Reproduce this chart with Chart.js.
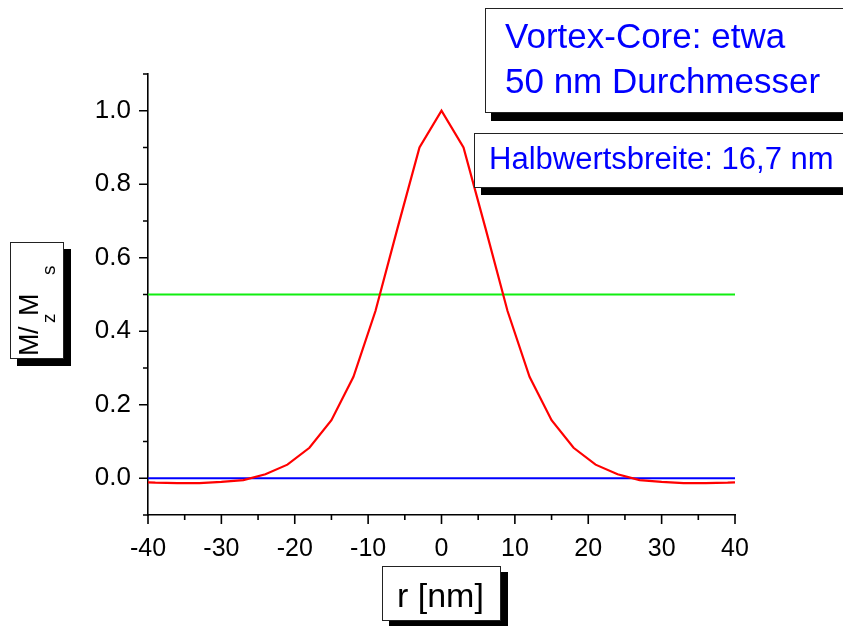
<!DOCTYPE html>
<html>
<head>
<meta charset="utf-8">
<script src="https://cdn.jsdelivr.net/npm/chart.js@4"></script>
<style>
  html, body { margin: 0; padding: 0; background: #fff; }
  canvas { display: block; }
</style>
</head>
<body>
<canvas id="chart" width="843" height="626"></canvas>
<script>
// profile of the vortex core, Mz/Ms over r
const radiusNm = [-40, -39, -36, -33, -30, -27, -24, -21, -18, -15, -12, -9, -6, -3, 0,
                  3, 6, 9, 12, 15, 18, 21, 24, 27, 30, 33, 36, 39, 40];
const mzMs = [-0.011, -0.012, -0.013, -0.013, -0.010, -0.005, 0.011, 0.037, 0.083, 0.158, 0.276, 0.455, 0.68, 0.90, 1.0,
              0.90, 0.68, 0.455, 0.276, 0.158, 0.083, 0.037, 0.011, -0.005, -0.010, -0.013, -0.013, -0.012, -0.011];

// reference levels
const levelX = [-40, 40];
const halfLevel = [0.5, 0.5];
const zeroLevel = [0, 0];

// axes
const xTickValues = [-40, -30, -20, -10, 0, 10, 20, 30, 40];
const xTickLabels = ['-40', '-30', '-20', '-10', '0', '10', '20', '30', '40'];
const xMinorTicks = [-35, -25, -15, -5, 5, 15, 25, 35];
const yTickValues = [0, 0.2, 0.4, 0.6, 0.8, 1.0];
const yTickLabels = ['0.0', '0.2', '0.4', '0.6', '0.8', '1.0'];
const yMinorTicks = [-0.1, 0.1, 0.3, 0.5, 0.7, 0.9, 1.1];

const FONT = "'Liberation Sans', Arial, sans-serif";

function toPoints(xs, ys) {
    return xs.map((x, i) => ({ x: x, y: ys[i] }));
}

function shadowBox(ctx, x, y, w, h, dx, dy) {
    ctx.fillStyle = '#000';
    ctx.fillRect(x + dx, y + dy, w, h);
    ctx.fillStyle = '#fff';
    ctx.fillRect(x, y, w, h);
    ctx.strokeStyle = '#222';
    ctx.lineWidth = 1;
    ctx.strokeRect(x + 0.5, y + 0.5, w - 1, h - 1);
}

const decorations = {
    id: 'decorations',
    beforeDraw(chart) {
        const ctx = chart.ctx;
        ctx.save();
        ctx.fillStyle = '#fff';
        ctx.fillRect(0, 0, chart.width, chart.height);
        ctx.restore();
    },
    afterDraw(chart) {
        const ctx = chart.ctx;
        const xs = chart.scales.x, ys = chart.scales.y;
        const area = chart.chartArea;
        ctx.save();

        // tick marks, outward
        ctx.strokeStyle = '#000';
        ctx.lineWidth = 1.6;
        ctx.beginPath();
        xTickValues.forEach(v => {
            const px = xs.getPixelForValue(v);
            ctx.moveTo(px, area.bottom); ctx.lineTo(px, area.bottom + 9);
        });
        xMinorTicks.forEach(v => {
            const px = xs.getPixelForValue(v);
            ctx.moveTo(px, area.bottom); ctx.lineTo(px, area.bottom + 5);
        });
        yTickValues.forEach(v => {
            const py = ys.getPixelForValue(v);
            ctx.moveTo(area.left, py); ctx.lineTo(area.left - 9, py);
        });
        yMinorTicks.forEach(v => {
            const py = ys.getPixelForValue(v);
            ctx.moveTo(area.left, py); ctx.lineTo(area.left - 5, py);
        });
        ctx.stroke();

        // text boxes
        shadowBox(ctx, 485, 8, 380, 105, 6, 8);
        shadowBox(ctx, 474, 133, 390, 55, 7, 7);
        shadowBox(ctx, 10, 242, 54, 117, 7, 7);
        shadowBox(ctx, 382, 566, 119, 55, 7, 6);

        ctx.fillStyle = '#0000ff';
        ctx.textBaseline = 'alphabetic';
        ctx.textAlign = 'left';
        ctx.font = '35px ' + FONT;
        ctx.fillText('Vortex-Core: etwa', 505, 48);
        ctx.fillText('50 nm Durchmesser', 505, 93);
        ctx.font = '31px ' + FONT;
        ctx.fillText('Halbwertsbreite: 16,7 nm', 489, 169);

        // axis titles
        ctx.fillStyle = '#000';
        ctx.font = '34px ' + FONT;
        ctx.fillText('r [nm]', 397, 607);

        ctx.save();
        ctx.translate(38, 355);
        ctx.rotate(-Math.PI / 2);
        ctx.font = '27px ' + FONT;
        ctx.fillText('M', -1, 0);
        ctx.fillText('/', 21, 0);
        ctx.fillText('M', 39, 0);
        ctx.font = '19px ' + FONT;
        ctx.fillText('z', 32, 17);
        ctx.fillText('s', 80, 17);
        ctx.restore();

        ctx.restore();
    }
};

new Chart(document.getElementById('chart').getContext('2d'), {
    type: 'line',
    data: {
        datasets: [
            {
                data: toPoints(radiusNm, mzMs),
                borderColor: '#ff0000',
                borderWidth: 2.2,
                pointRadius: 0,
                tension: 0
            },
            {
                data: toPoints(levelX, halfLevel),
                borderColor: '#11ee11',
                borderWidth: 2.2,
                pointRadius: 0
            },
            {
                data: toPoints(levelX, zeroLevel),
                borderColor: '#0000ff',
                borderWidth: 2.2,
                pointRadius: 0
            }
        ]
    },
    options: {
        responsive: false,
        animation: false,
        layout: { padding: { top: 74, right: 108, bottom: 0, left: 0 } },
        plugins: { legend: { display: false }, tooltip: { enabled: false } },
        scales: {
            x: {
                type: 'linear',
                min: -40,
                max: 40,
                grid: { display: false },
                border: { display: true, color: '#000', width: 1.6 },
                afterBuildTicks: scale => { scale.ticks = xTickValues.map(v => ({ value: v })); },
                afterFit: scale => { scale.height = 111; },
                ticks: {
                    color: '#000',
                    padding: 11,
                    maxRotation: 0,
                    font: { family: FONT, size: 25 },
                    callback: (value, i) => xTickLabels[i]
                }
            },
            y: {
                type: 'linear',
                min: -0.1,
                max: 1.1,
                grid: { display: false },
                border: { display: true, color: '#000', width: 1.6 },
                afterBuildTicks: scale => { scale.ticks = yTickValues.map(v => ({ value: v })); },
                afterFit: scale => { scale.width = 148; },
                ticks: {
                    color: '#000',
                    padding: 9,
                    font: { family: FONT, size: 26 },
                    callback: (value, i) => yTickLabels[i]
                }
            }
        }
    },
    plugins: [decorations]
});
</script>
</body>
</html>
